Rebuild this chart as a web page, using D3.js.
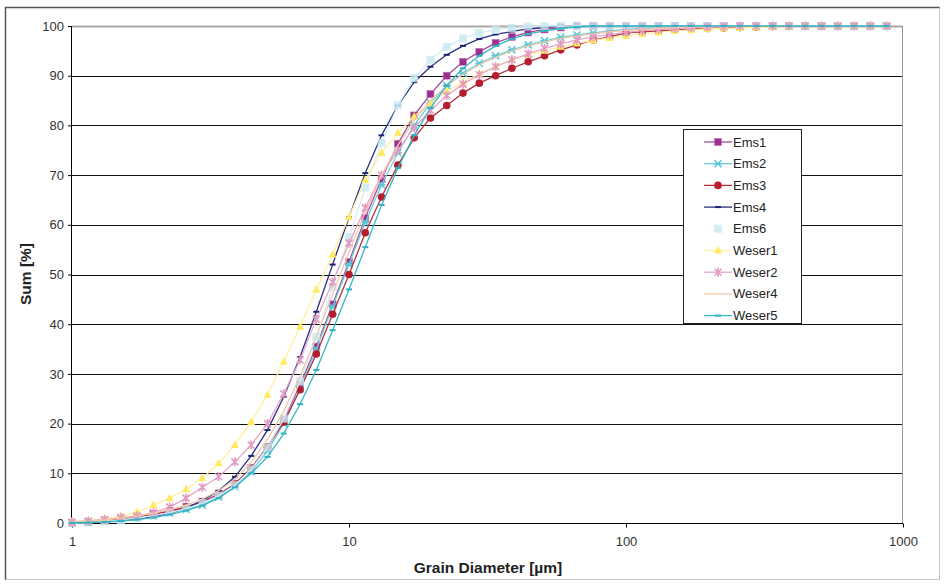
<!DOCTYPE html>
<meta charset="utf-8">
<style>
    body { margin: 0; background: #fff; }
    svg { font-family: "Liberation Sans", Arial, sans-serif; }
    .tick text { font-size: 13px; fill: #333; }
    .axis path, .axis line { stroke: #000; }
    .legend text { font-size: 13px; fill: #222; }
</style>
<svg width="944" height="585"></svg>
<script src="https://cdn.jsdelivr.net/npm/d3@7"></script>
<script>

    // grain diameter classes [µm]
    var sizes = [1, 1.145, 1.311, 1.501, 1.719, 1.968, 2.253, 2.580, 2.954, 3.383,
        3.873, 4.435, 5.078, 5.814, 6.657, 7.622, 8.728, 10, 11.45, 13.11,
        15.01, 17.19, 19.68, 22.53, 25.80, 29.54, 33.83, 38.73, 44.35, 50.78,
        58.14, 66.57, 76.22, 87.28, 100, 114.5, 131.1, 150.1, 171.9, 196.8,
        225.3, 258.0, 295.4, 338.3, 387.3, 443.5, 507.8, 581.4, 665.7, 762.2, 872.8];

    var ems1 = [0, 0.2, 0.5, 0.9, 1.3, 1.8, 2.4, 3.2, 4.3, 5.8,
        7.9, 11, 15.3, 20.8, 27.8, 35.5, 44, 52.5, 61.4, 69.2,
        76.3, 82, 86.3, 90, 92.8, 94.8, 96.6, 97.8, 98.7, 99.3,
        99.7, 100, 100, 100, 100, 100, 100, 100, 100, 100,
        100, 100, 100, 100, 100, 100, 100, 100, 100, 100, 100];
    var ems2 = [0, 0.1, 0.3, 0.6, 1, 1.4, 2, 2.7, 3.6, 5.2,
        7.3, 10.3, 14.5, 20, 27, 35, 43.5, 52, 60.5, 68,
        74.5, 80, 84.5, 88, 90.5, 92.5, 94, 95.2, 96.2, 97,
        97.7, 98.2, 98.6, 99, 99.3, 99.5, 99.7, 99.9, 100, 100,
        100, 100, 100, 100, 100, 100, 100, 100, 100, 100, 100];
    var ems3 = [0, 0.2, 0.5, 0.9, 1.3, 1.8, 2.4, 3.2, 4.2, 5.6,
        7.8, 11, 15.3, 20.3, 26.8, 34, 42, 50, 58.4, 65.6,
        72, 77.5, 81.5, 84, 86.5, 88.5, 90, 91.5, 92.8, 94,
        95.2, 96.2, 97.2, 97.8, 98.6, 98.8, 99, 99.2, 99.4, 99.5,
        99.6, 99.7, 99.8, 99.9, 100, 100, 100, 100, 100, 100, 100];
    var ems4 = [0, 0.1, 0.2, 0.5, 0.8, 1.3, 2, 3, 4.5, 6.5,
        9.3, 13.5, 18.7, 25.4, 33.4, 42.5, 52, 61.5, 70.4, 78,
        84, 88.7, 91.8, 94.2, 96, 97.4, 98.3, 98.9, 99.4, 99.7,
        100, 100, 100, 100, 100, 100, 100, 100, 100, 100,
        100, 100, 100, 100, 100, 100, 100, 100, 100, 100, 100];
    var ems6 = [0, 0.1, 0.3, 0.6, 1, 1.5, 2.1, 2.9, 4, 5.5,
        7.6, 10.8, 15.2, 21, 28.5, 37.5, 47.5, 57.5, 67.5, 76.5,
        84, 89.5, 93.2, 95.8, 97.5, 98.6, 99.2, 99.6, 99.9, 100,
        100, 100, 100, 100, 100, 100, 100, 100, 100, 100,
        100, 100, 100, 100, 100, 100, 100, 100, 100, 100, 100];
    var weser1 = [0.3, 0.5, 0.9, 1.4, 2.2, 3.6, 5, 6.8, 9, 12,
        15.7, 20.3, 25.8, 32.5, 39.5, 47, 54, 61.6, 69, 74.5,
        78.5, 81.8, 84.5, 86.8, 88.7, 90.4, 91.9, 93.2, 94.2, 95,
        95.8, 96.5, 97.1, 97.6, 98, 98.4, 98.7, 99, 99.2, 99.4,
        99.5, 99.6, 99.7, 99.8, 99.9, 100, 100, 100, 100, 100, 100];
    var weser2 = [0.2, 0.4, 0.7, 1.1, 1.4, 2.1, 3.2, 5, 7.2, 9.3,
        12.3, 15.7, 20, 26, 32.8, 41, 48.5, 56.3, 63.4, 70,
        75, 79.5, 83, 86, 88.3, 90.2, 91.8, 93.2, 94.4, 95.5,
        96.4, 97.2, 97.8, 98.3, 98.7, 99, 99.3, 99.5, 99.7, 99.8,
        99.9, 100, 100, 100, 100, 100, 100, 100, 100, 100, 100];
    var weser4 = [0.1, 0.3, 0.6, 1, 1.4, 2, 2.7, 3.6, 4.8, 6.5,
        8.8, 12.2, 16.8, 22.5, 29.5, 37.5, 46, 54.5, 62.5, 70,
        76, 81, 85, 88, 90.3, 92.2, 93.7, 95, 96, 96.8,
        97.5, 98, 98.4, 98.8, 99.1, 99.3, 99.5, 99.7, 99.8, 99.9,
        100, 100, 100, 100, 100, 100, 100, 100, 100, 100, 100];
    var weser5 = [0, 0.1, 0.2, 0.4, 0.7, 1.1, 1.7, 2.5, 3.5, 5,
        7.2, 10, 13.3, 18, 23.9, 30.8, 38.8, 47, 55.5, 64,
        71.4, 78, 83.5, 88, 91.5, 94, 96, 97.4, 98.4, 99,
        99.5, 99.8, 100, 100, 100, 100, 100, 100, 100, 100,
        100, 100, 100, 100, 100, 100, 100, 100, 100, 100, 100];

    var yTicks = [0, 10, 20, 30, 40, 50, 60, 70, 80, 90, 100];
    var xTicks = [1, 10, 100, 1000];

    var series = [
        {name: "Ems1", values: ems1, color: "#9b3090", line: "#a54a9a", marker: "square"},
        {name: "Ems2", values: ems2, color: "#5cc8d6", line: "#6ccfdc", marker: "cross"},
        {name: "Ems3", values: ems3, color: "#b51e2e", line: "#b3303c", marker: "circle"},
        {name: "Ems4", values: ems4, color: "#1c2474", line: "#2a3182", marker: "dash"},
        {name: "Ems6", values: ems6, color: "#c8e8f3", line: "#d3edf6", marker: "blob"},
        {name: "Weser1", values: weser1, color: "#ffe95e", line: "#fff0a0", marker: "triangle"},
        {name: "Weser2", values: weser2, color: "#e29ac0", line: "#e7a6c8", marker: "star"},
        {name: "Weser4", values: weser4, color: "#f2c7a9", line: "#f2c7a9", marker: "none"},
        {name: "Weser5", values: weser5, color: "#2fb2c2", line: "#35b6c4", marker: "dash"}
    ];

    var svg = d3.select("svg");

    // outer frame
    svg.append("rect")
        .attr("x", 5.5).attr("y", 7.5)
        .attr("width", 934).attr("height", 572)
        .attr("fill", "none").attr("stroke", "#c8c8c8");
    svg.append("path")
        .attr("d", "M5.5,579.5V7.5H939.5")
        .attr("fill", "none").attr("stroke", "#555").attr("stroke-width", 1.5);

    var x = d3.scaleLog().domain([1, 1000]).range([72, 903]),
        y = d3.scaleLinear().domain([0, 100]).range([523, 26]);

    // grid
    svg.append("g").selectAll("line")
        .data(yTicks.filter(function(d) { return d > 0; }))
        .enter().append("line")
        .attr("x1", x(1)).attr("x2", x(1000))
        .attr("y1", function(d) { return Math.round(y(d)) + 0.5; })
        .attr("y2", function(d) { return Math.round(y(d)) + 0.5; })
        .attr("stroke", function(d) { return d == 100 ? "#a8a8a8" : "#111"; })
        .attr("stroke-width", function(d) { return d == 100 ? 2 : 1; });

    svg.append("line")
        .attr("x1", x(1000) - 0.5).attr("x2", x(1000) - 0.5)
        .attr("y1", y(100)).attr("y2", y(0))
        .attr("stroke", "#999");

    svg.append("g")
        .attr("class", "axis")
        .attr("transform", "translate(" + x(1) + ",0)")
        .call(d3.axisLeft(y).tickValues(yTicks).tickSize(4).tickPadding(4))
        .call(function(g) { g.select(".domain").attr("d", "M-0.5," + y(100) + "V" + (y(0) + 0.5)); });

    svg.append("g")
        .attr("class", "axis")
        .attr("transform", "translate(0," + (y(0) + 0.5) + ")")
        .call(d3.axisBottom(x).tickValues(xTicks).tickFormat(d3.format("d")).tickSize(4).tickPadding(9))
        .call(function(g) { g.select(".domain").attr("d", "M" + x(1) + ",0H" + x(1000)); });

    svg.append("text")
        .attr("x", 488).attr("y", 573)
        .attr("text-anchor", "middle")
        .attr("font-size", 15.5).attr("font-weight", "bold").attr("fill", "#222")
        .text("Grain Diameter [µm]");

    svg.append("text")
        .attr("transform", "translate(31,274) rotate(-90)")
        .attr("text-anchor", "middle")
        .attr("font-size", 15.5).attr("font-weight", "bold").attr("fill", "#222")
        .text("Sum [%]");

    function drawMarker(sel, s) {
        if (s.marker == "square") {
            sel.append("rect").attr("x", -3.5).attr("y", -3.5).attr("width", 7).attr("height", 7)
                .attr("fill", s.color).attr("stroke", "#c070b8").attr("stroke-width", 0.6);
        } else if (s.marker == "circle") {
            sel.append("circle").attr("r", 3.8).attr("fill", s.color);
        } else if (s.marker == "dash") {
            sel.append("rect").attr("x", -3).attr("y", -1).attr("width", 6).attr("height", 2)
                .attr("fill", s.color);
        } else if (s.marker == "blob") {
            sel.append("rect").attr("x", -4).attr("y", -4).attr("width", 8).attr("height", 8)
                .attr("fill", s.color).attr("opacity", 0.8);
        } else if (s.marker == "triangle") {
            sel.append("path").attr("d", "M0,-4.5L4,3L-4,3Z").attr("fill", s.color);
        } else if (s.marker == "cross") {
            sel.append("path").attr("d", "M-3.5,-3.5L3.5,3.5M-3.5,3.5L3.5,-3.5M-4,0H4")
                .attr("stroke", s.color).attr("stroke-width", 1.6);
        } else if (s.marker == "star") {
            sel.append("path").attr("d", "M-3.5,-3.5L3.5,3.5M-3.5,3.5L3.5,-3.5M0,-4.5V4.5")
                .attr("stroke", s.color).attr("stroke-width", 1.6);
        }
    }

    var line = d3.line()
        .x(function(d, i) { return x(sizes[i]); })
        .y(function(d) { return y(d); });

    var plot = svg.append("g");

    series.forEach(function(s) {
        var g = plot.append("g");
        g.append("path")
            .attr("d", line(s.values))
            .attr("fill", "none")
            .attr("stroke", s.line)
            .attr("stroke-width", 1.3);
        g.selectAll(".pt")
            .data(s.values)
            .enter().append("g")
            .attr("class", "pt")
            .attr("transform", function(d, i) { return "translate(" + x(sizes[i]) + "," + y(d) + ")"; })
            .each(function() { drawMarker(d3.select(this), s); });
    });

    // legend
    var legend = svg.append("g").attr("class", "legend");
    legend.append("rect")
        .attr("x", 683.5).attr("y", 129.5)
        .attr("width", 118).attr("height", 194)
        .attr("fill", "#fff").attr("stroke", "#222");

    series.forEach(function(s, i) {
        var ly = 142 + i * 21.7;
        var item = legend.append("g");
        if (s.marker != "blob") {
            item.append("line")
                .attr("x1", 704).attr("x2", 732)
                .attr("y1", ly).attr("y2", ly)
                .attr("stroke", s.line).attr("stroke-width", 1.3);
        }
        var m = item.append("g").attr("transform", "translate(718," + ly + ")");
        drawMarker(m, s);
        item.append("text")
            .attr("x", 733).attr("y", ly + 4.5)
            .text(s.name);
    });
</script>
